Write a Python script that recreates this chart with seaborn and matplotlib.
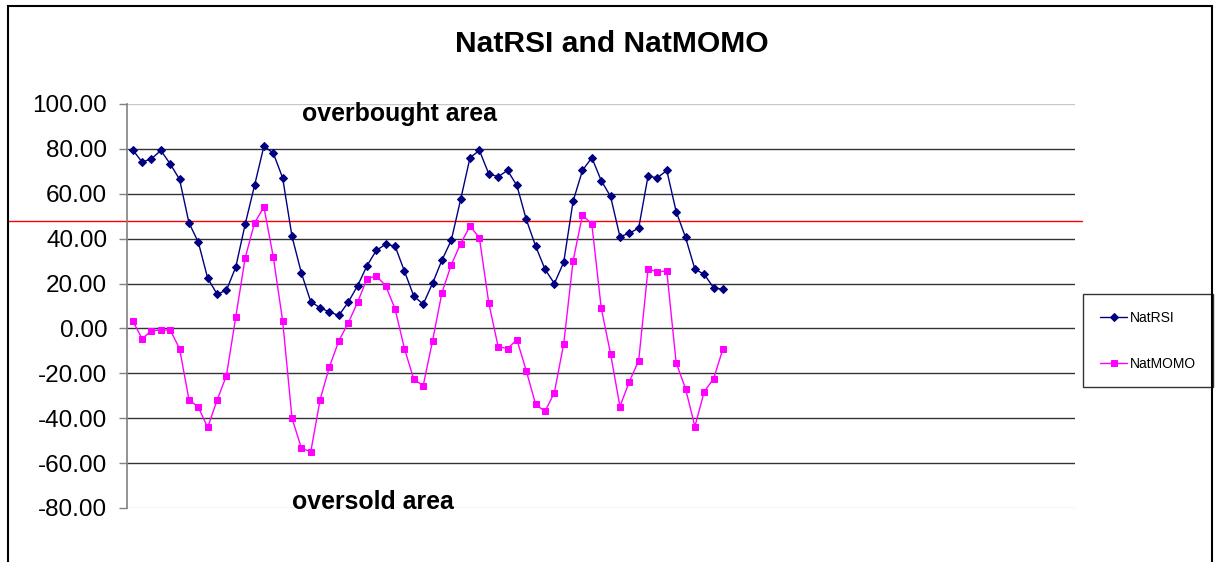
import matplotlib
matplotlib.use("Agg")
import matplotlib.pyplot as plt
import seaborn as sns
import pandas as pd
import numpy as np
from matplotlib.patches import Rectangle

nat_rsi = [79.6, 74.1, 75.6, 79.3, 73.3, 66.4, 47.1, 38.4, 22.4, 15.3,
           17.0, 27.4, 46.4, 63.7, 81.2, 78.1, 67.1, 41.0, 24.7, 11.9,
           9.2, 7.3, 5.8, 11.7, 19.0, 27.9, 34.8, 37.5, 36.7, 25.5,
           14.4, 10.8, 20.1, 30.4, 39.3, 57.5, 76.1, 79.3, 68.9, 67.6,
           70.4, 63.7, 48.6, 36.7, 26.4, 20.0, 29.5, 56.7, 70.4, 76.1,
           65.9, 58.8, 40.9, 42.4, 44.7, 67.9, 67.1, 70.4, 52.1, 40.6,
           26.4, 24.1, 18.1, 17.5]
nat_momo = [3.4, -4.6, -1.0, -0.7, -0.7, -9.0, -31.7, -35.1, -44.1, -32.0,
            -21.0, 5.2, 31.4, 47.0, 54.1, 31.9, 3.4, -40.0, -53.3, -55.0,
            -31.7, -17.0, -5.5, 2.4, 11.7, 22.1, 23.4, 19.0, 8.7, -9.0,
            -22.7, -25.5, -5.5, 15.9, 28.4, 37.8, 45.6, 40.4, 11.4, -8.1,
            -9.0, -5.0, -18.8, -33.8, -37.0, -28.6, -6.8, 30.1, 50.5, 46.5,
            9.2, -11.3, -34.8, -23.7, -14.4, 26.5, 25.2, 25.6, -15.3, -26.8,
            -43.7, -28.1, -22.4, -9.0]
y_ticks = [100, 80, 60, 40, 20, 0, -20, -40, -60, -80]
threshold = 48.0
title = "NatRSI and NatMOMO"

sns.set_style("white")
plt.rcParams['font.family'] = ['Liberation Sans', 'DejaVu Sans']
plt.rcParams['axes.unicode_minus'] = False
plt.rcParams['text.color'] = 'black'
plt.rcParams['ytick.labelcolor'] = 'black'
plt.rcParams['xtick.labelcolor'] = 'black'
plt.rcParams['axes.labelcolor'] = 'black'

W, H = 1215, 562
fig = plt.figure(figsize=(W / 100, H / 100), dpi=100)
ax = fig.add_axes([127.3 / W, 1 - 508 / H, (1075 - 127.3) / W, (508 - 104) / H])

df = pd.DataFrame({"idx": np.arange(len(nat_rsi)), "NatRSI": nat_rsi, "NatMOMO": nat_momo})

sns.lineplot(data=df, x="idx", y="NatRSI", ax=ax, color="#000080", marker="D",
             markersize=4.3, markeredgecolor="#000080", linewidth=1.0, label="NatRSI")
sns.lineplot(data=df, x="idx", y="NatMOMO", ax=ax, color="#FF00FF", marker="s",
             markersize=4.5, markeredgecolor="#FF00FF", linewidth=1.0, label="NatMOMO")

ax.set_xlim(-0.58, 100.57)
ax.set_ylim(-80, 100)
ax.set_yticks(y_ticks)
ax.set_yticklabels([f"{v:.2f}" for v in y_ticks], fontsize=17.5, color="black")
ax.set_xticks([])
ax.set_xlabel("")
ax.set_ylabel("")
ax.tick_params(axis="y", which="major", left=True, length=5.8, width=1.0,
               color="#808080", pad=8.6, labelcolor="black")

ax.grid(axis="y", color="#333333", linewidth=1.0)
ax.set_axisbelow(True)
gl = ax.get_ygridlines()
for line, v in zip(gl, y_ticks):
    if v in (100, -80):
        line.set_color("#c8c8c8")

for s in ["top", "right", "bottom"]:
    ax.spines[s].set_visible(False)
ax.spines["left"].set_color("#808080")
ax.spines["left"].set_linewidth(1.2)

ax.axhline(threshold, xmin=(8 - 127.3) / (1075 - 127.3), xmax=(1082 - 127.3) / (1075 - 127.3),
           color="#FF0000", linewidth=1.0, clip_on=False, zorder=1)

ax.text(28.5, 92.4, "overbought area", ha="center", va="baseline",
        fontsize=17.9, fontweight="bold", color="black")
ax.text(25.6, -80.3, "oversold area", ha="center", va="baseline",
        fontsize=17.9, fontweight="bold", color="black")

fig.text(611.7 / W, 1 - 52 / H, title, ha="center", va="baseline",
         fontsize=21.6, fontweight="bold", color="black")

leg = ax.legend(loc="upper left", bbox_to_anchor=(1083 / W, 1 - 294 / H),
                bbox_transform=fig.transFigure, borderaxespad=0, fontsize=10,
                frameon=True, fancybox=False, edgecolor="black", borderpad=1.2,
                labelspacing=2.3, handlelength=2.0, handletextpad=0.2)
leg.get_frame().set_linewidth(1.0)
for t in leg.get_texts():
    t.set_color("black")

fig.patches.append(Rectangle((8 / W, -0.05), (1212 - 8) / W, 1.05 - 6 / H,
                             transform=fig.transFigure, fill=False,
                             edgecolor="black", linewidth=1.5))

fig.savefig("out.png", dpi=100)
